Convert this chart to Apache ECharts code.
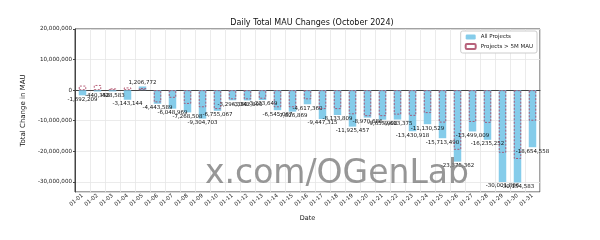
<!DOCTYPE html>
<html>
<head>
<meta charset="utf-8">
<script src="https://cdn.jsdelivr.net/npm/echarts@6/dist/echarts.min.js"></script>
<style>html,body{margin:0;padding:0;background:#fff}#c{width:600px;height:240px}</style>
</head>
<body>
<div id="c"></div>
<script>
var categories = ['01-01','01-02','01-03','01-04','01-05','01-06','01-07','01-08','01-09','01-10','01-11','01-12','01-13','01-14','01-15','01-16','01-17','01-18','01-19','01-20','01-21','01-22','01-23','01-24','01-25','01-26','01-27','01-28','01-29','01-30','01-31'];
var allProjects = [-1692209,-440358,-428583,-3143144,1206772,-4443589,-6048969,-7268508,-9304703,-6755067,-3296380,-3342890,-3233649,-6545067,-7026869,-4617360,-9447315,-8133809,-11925457,-8970686,-9655908,-9613375,-13430918,-11130529,-15713490,-23375362,-13499009,-16235252,-30001886,-30154583,-18654558];
var bigProjects = [1500000,1700000,600000,900000,700000,-4000000,-2500000,-4500000,-5600000,-6200000,-3000000,-3000000,-2800000,-5600000,-5600000,-3000000,-6200000,-6200000,-7900000,-8500000,-8500000,-8000000,-8400000,-7500000,-10600000,-19500000,-10400000,-10700000,-20500000,-22500000,-10000000];

function fmt(v){ return Math.round(v).toLocaleString('en-US'); }
var FONT = 'DejaVu Sans';
var chart = echarts.init(document.getElementById('c'), null, {renderer:'canvas'});
chart.setOption({
  animation:false,
  backgroundColor:'#fff',
  title:{text:'Daily Total MAU Changes (October 2024)',left:307,top:14,textAlign:'center',
    textStyle:{fontFamily:FONT,fontSize:8,fontWeight:'normal',color:'#111'}},
  legend:{orient:'vertical',right:63,top:31,itemWidth:10,itemHeight:5,itemGap:3,
    padding:[3,4],borderColor:'#ccc',borderWidth:1,borderRadius:2,backgroundColor:'#fff',
    textStyle:{fontFamily:FONT,fontSize:5.5,color:'#222'},
    data:['All Projects','Projects > 5M MAU']},
  grid:{left:75,right:60,top:29,bottom:48,show:true,borderColor:'#444',borderWidth:1,containLabel:false},
  xAxis:{type:'category',data:categories,boundaryGap:true,
    name:'Date',nameLocation:'middle',nameGap:21,
    nameTextStyle:{fontFamily:FONT,fontSize:6.5,color:'#111'},
    axisLine:{lineStyle:{color:'#444'}},
    axisTick:{alignWithLabel:true,length:2,lineStyle:{color:'#444'}},
    axisLabel:{rotate:40,fontFamily:FONT,fontSize:5.5,color:'#222',margin:3,interval:0},
    splitLine:{show:true,lineStyle:{color:'#e6e6e6',width:0.8}}},
  yAxis:{type:'value',min:-33300000,max:20000000,splitNumber:5,
    name:'Total Change in MAU',nameLocation:'middle',nameGap:44,
    nameTextStyle:{fontFamily:FONT,fontSize:7,color:'#111'},
    axisLine:{show:true,lineStyle:{color:'#444'}},
    axisTick:{show:true,length:2,lineStyle:{color:'#444'}},
    axisLabel:{fontFamily:FONT,fontSize:5.6,color:'#222',margin:3,showMinLabel:false,
      formatter:function(v){return fmt(v);}},
    splitLine:{show:true,lineStyle:{color:'#e6e6e6',width:0.8}}},
  series:[
    {name:'All Projects',type:'bar',barWidth:'50%',z:2,
      data:allProjects.map(function(v){return {value:v,label:{position:v>=0?'top':'bottom'}};}),
      itemStyle:{color:'rgba(120,198,232,0.9)'},
      label:{show:true,distance:1,fontFamily:FONT,fontSize:5.5,color:'#111',
        formatter:function(p){return fmt(p.value);}}},
    {name:'Projects > 5M MAU',type:'bar',barWidth:'50%',barGap:'-100%',z:3,
      data:bigProjects,
      itemStyle:{color:'rgba(0,0,0,0)',borderColor:'rgba(170,70,100,0.85)',borderWidth:1,borderType:[2,1.5]}}
  ],
  graphic:[{type:'text',left:205,top:158,z:10,
    style:{text:'x.com/OGenLab',fontFamily:FONT,fontSize:33,fill:'rgba(125,125,125,0.8)'}}]
});
</script>
</body>
</html>
